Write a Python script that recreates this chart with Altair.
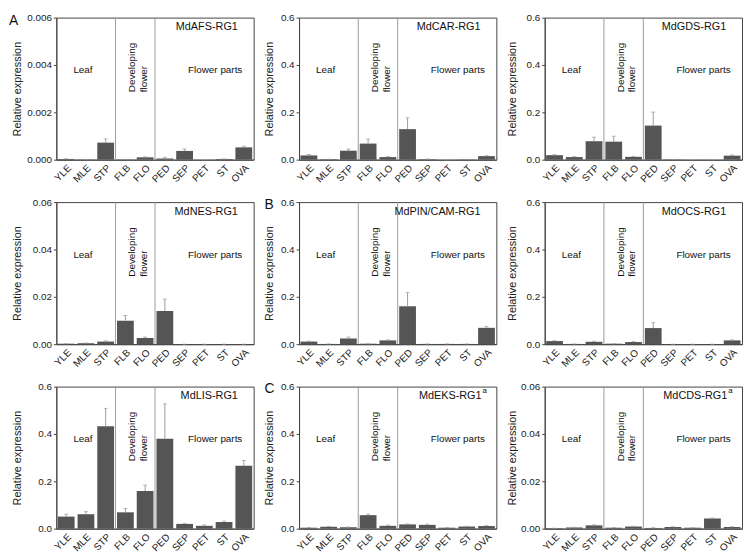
import altair as alt
import pandas as pd

categories = ["YLE", "MLE", "STP", "FLB", "FLO", "PED", "SEP", "PET", "ST", "OVA"]

afs_mean = [0.00003, 0.00001, 0.00072, 0.00001, 0.00010, 0.00005, 0.00037, 0.0, 0.00003, 0.00052]
afs_err = [0.00001, 0.0, 0.00016, 0.0, 0.00002, 0.00005, 0.00008, 0.0, 0.0, 0.00005]
car_mean = [0.018, 0.002, 0.038, 0.068, 0.011, 0.129, 0.002, 0.0, 0.001, 0.015]
car_err = [0.004, 0.0, 0.007, 0.019, 0.003, 0.048, 0.001, 0.0, 0.0, 0.002]
gds_mean = [0.019, 0.011, 0.078, 0.076, 0.012, 0.144, 0.001, 0.0, 0.0, 0.017]
gds_err = [0.002, 0.002, 0.017, 0.023, 0.002, 0.057, 0.0, 0.0, 0.0, 0.003]
nes_mean = [0.0002, 0.0004, 0.0011, 0.0099, 0.0026, 0.0140, 0.0, 0.0, 0.0, 0.0]
nes_err = [0.0, 0.0001, 0.0003, 0.0022, 0.0004, 0.0050, 0.0, 0.0, 0.0, 0.0]
pin_mean = [0.011, 0.001, 0.024, 0.002, 0.016, 0.160, 0.001, 0.001, 0.001, 0.069]
pin_err = [0.002, 0.0, 0.006, 0.0, 0.002, 0.058, 0.0, 0.0, 0.0, 0.006]
ocs_mean = [0.013, 0.001, 0.010, 0.002, 0.009, 0.068, 0.0, 0.0, 0.0, 0.016]
ocs_err = [0.002, 0.0, 0.002, 0.0, 0.002, 0.023, 0.0, 0.0, 0.0, 0.002]
lis_mean = [0.051, 0.061, 0.432, 0.069, 0.159, 0.380, 0.020, 0.012, 0.028, 0.266]
lis_err = [0.010, 0.011, 0.076, 0.016, 0.025, 0.147, 0.002, 0.004, 0.004, 0.022]
eks_mean = [0.004, 0.008, 0.006, 0.057, 0.012, 0.018, 0.016, 0.004, 0.009, 0.011]
eks_err = [0.001, 0.001, 0.001, 0.004, 0.003, 0.002, 0.003, 0.001, 0.001, 0.002]
cds_mean = [0.0002, 0.0005, 0.0014, 0.0004, 0.0009, 0.0003, 0.0007, 0.0004, 0.0043, 0.0007]
cds_err = [0.0, 0.0001, 0.0002, 0.0001, 0.0001, 0.0001, 0.0001, 0.0, 0.0002, 0.0001]

gene_names = ["MdAFS-RG1", "MdCAR-RG1", "MdGDS-RG1",
              "MdNES-RG1", "MdPIN/CAM-RG1", "MdOCS-RG1",
              "MdLIS-RG1", "MdEKS-RG1", "MdCDS-RG1"]
gene_sup = ["", "", "", "", "", "", "", "a", "a"]
panel_letters = ["A", "", "", "", "B", "", "", "C", ""]
y_max = [0.006, 0.6, 0.6, 0.06, 0.6, 0.6, 0.6, 0.6, 0.06]
y_ticks = {0.006: [0, 0.002, 0.004, 0.006], 0.6: [0, 0.2, 0.4, 0.6], 0.06: [0, 0.02, 0.04, 0.06]}
y_fmt = {0.006: ".3f", 0.6: ".1f", 0.06: ".2f"}
means = [afs_mean, car_mean, gds_mean, nes_mean, pin_mean, ocs_mean, lis_mean, eks_mean, cds_mean]
errs = [afs_err, car_err, gds_err, nes_err, pin_err, ocs_err, lis_err, eks_err, cds_err]
group_starts = ["FLB", "PED"]

W = 200
H = 144
STEP = W / len(categories)
PAD_IN = 0.15
FONT = "Liberation Sans"
col_extent = [32, 23, 26]


def one(text):
    return pd.DataFrame({"t": [text]})


def panel(i):
    ymax = y_max[i]
    df = pd.DataFrame({"cat": categories, "val": means[i],
                       "hi": [m + e for m, e in zip(means[i], errs[i])]})
    ext = col_extent[i % 3]
    xaxis = alt.Axis(labelAngle=-45, labelAlign="right", labelBaseline="top",
                     ticks=False, labelPadding=3, orient="bottom",
                     labelFontSize=10, domainColor="#444", labelColor="#222")
    blank = alt.Axis(labels=False, ticks=False, domain=False, grid=False, title=None,
                     orient="top")
    xscale = alt.Scale(domain=categories, paddingInner=PAD_IN, paddingOuter=PAD_IN / 2)
    yscale = alt.Scale(domain=[0, ymax], nice=False, zero=True)
    yaxis = alt.Axis(values=y_ticks[ymax], format=y_fmt[ymax], labelFontSize=10,
                     titleFontSize=11, titleFontWeight="normal", tickSize=3,
                     labelPadding=2, minExtent=ext, maxExtent=ext, titlePadding=2,
                     grid=False, domainColor="#444", tickColor="#444",
                     labelColor="#222", titleColor="#222")
    base = alt.Chart(df)
    bars = base.mark_bar(color="#555555").encode(
        x=alt.X("cat:N", sort=categories, title=None, scale=xscale, axis=xaxis),
        y=alt.Y("val:Q", scale=yscale, title="Relative expression", axis=yaxis))
    err_line = base.mark_rule(color="#9a9a9a", strokeWidth=1).encode(
        x=alt.X("cat:N", sort=categories, title=None, axis=blank),
        y=alt.Y("val:Q"), y2="hi:Q")
    caps = base.mark_tick(color="#9a9a9a", thickness=1, size=4).encode(
        x=alt.X("cat:N", sort=categories, title=None, axis=blank), y=alt.Y("hi:Q"))
    seps = alt.Chart(pd.DataFrame({"cat": group_starts})).mark_rule(
        color="#9a9a9a", strokeWidth=1, xOffset=-STEP * PAD_IN / 2).encode(
        x=alt.X("cat:N", sort=categories, title=None, axis=blank, bandPosition=0),
        y=alt.value(0), y2=alt.value(H))
    txt = dict(font=FONT, color="#111")
    layers = [bars, seps, err_line, caps]
    if gene_sup[i]:
        layers.append(alt.Chart(one(gene_names[i])).mark_text(
            align="right", baseline="middle", fontSize=11, **txt).encode(
            x=alt.value(W - 15), y=alt.value(10), text="t:N"))
        layers.append(alt.Chart(one(gene_sup[i])).mark_text(
            align="left", baseline="middle", fontSize=8, **txt).encode(
            x=alt.value(W - 14), y=alt.value(5), text="t:N"))
    else:
        layers.append(alt.Chart(one(gene_names[i])).mark_text(
            align="right", baseline="middle", fontSize=11, **txt).encode(
            x=alt.value(W - 16), y=alt.value(10), text="t:N"))
    layers.append(alt.Chart(one("Leaf")).mark_text(
        align="center", baseline="middle", fontSize=10, **txt).encode(
        x=alt.value(27), y=alt.value(H * 0.37), text="t:N"))
    layers.append(alt.Chart(one("Flower parts")).mark_text(
        align="center", baseline="middle", fontSize=10, **txt).encode(
        x=alt.value(161), y=alt.value(H * 0.37), text="t:N"))
    layers.append(alt.Chart(one("Developing")).mark_text(
        align="left", baseline="middle", angle=270, fontSize=10, **txt).encode(
        x=alt.value(77), y=alt.value(H * 0.525), text="t:N"))
    layers.append(alt.Chart(one("flower")).mark_text(
        align="left", baseline="middle", angle=270, fontSize=10, **txt).encode(
        x=alt.value(89), y=alt.value(H * 0.525), text="t:N"))
    if panel_letters[i]:
        lx = -48 if i == 0 else -35
        layers.append(alt.Chart(one(panel_letters[i])).mark_text(
            align="left", baseline="middle", fontSize=14, **txt).encode(
            x=alt.value(lx), y=alt.value(3), text="t:N"))
    return alt.layer(*layers).resolve_axis(x="independent").properties(width=W, height=H)


chart = alt.concat(*[panel(i) for i in range(9)], columns=3).configure(
    font=FONT, padding=0
).configure_view(stroke="#444", strokeWidth=1)
chart = chart.properties(align="each", spacing={"row": 11, "column": 8})

chart.save("out.html", embed_options={"renderer": "svg", "actions": False})
